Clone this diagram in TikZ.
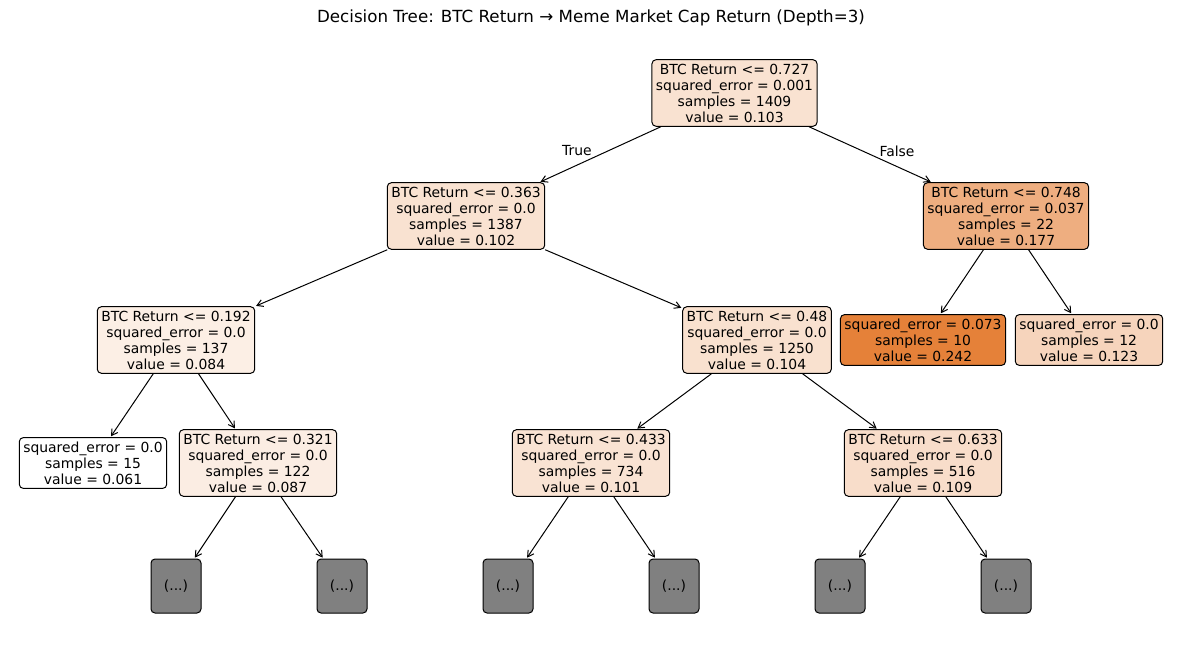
\documentclass[tikz,border=0pt]{standalone}
\usepackage{fontspec}
\setmainfont{DejaVu Sans}
\usepackage{xcolor}
\usetikzlibrary{arrows.meta, positioning}
\definecolor{splitorange}{RGB}{229,129,57}
\definecolor{cutgray}{RGB}{128,128,128}

\begin{document}
\begin{tikzpicture}[x=1pt, y=-1pt,
    every node/.style={font=\fontsize{13.9}{16}\selectfont},
    treebox/.style={draw, rectangle, rounded corners=4pt, line width=1pt, align=center, inner xsep=4pt, inner ysep=4pt},
    cutbox/.style={draw, rectangle, rounded corners=4pt, line width=1pt, fill=cutgray, minimum width=50pt, minimum height=54pt},
    branch/.style={-{Straight Barb[length=6pt, width=7pt]}, line width=1pt, shorten >=1pt}]
    \useasboundingbox (0,0) rectangle (1182,658);

    \node (title) at (591,18) {\fontsize{16.7}{20}\selectfont Decision Tree: BTC Return → Meme Market Cap Return (Depth=3)};

    % depth 0 and 1
    \node[treebox, fill=splitorange!23!white] (root) at (734.5,93) {BTC Return <= 0.727\\squared\_error = 0.001\\samples = 1409\\value = 0.103};
    \node[treebox, fill=splitorange!23!white] (n1) at (466,216) {BTC Return <= 0.363\\squared\_error = 0.0\\samples = 1387\\value = 0.102};
    \node[treebox, fill=splitorange!64!white] (n2) at (1006,216) {BTC Return <= 0.748\\squared\_error = 0.037\\samples = 22\\value = 0.177};

    % depth 2
    \node[treebox, fill=splitorange!13!white] (n3) at (176,340) {BTC Return <= 0.192\\squared\_error = 0.0\\samples = 137\\value = 0.084};
    \node[treebox, fill=splitorange!24!white] (n4) at (757,340) {BTC Return <= 0.48\\squared\_error = 0.0\\samples = 1250\\value = 0.104};
    \node[treebox, fill=splitorange] (n5) at (923,340) {squared\_error = 0.073\\samples = 10\\value = 0.242};
    \node[treebox, fill=splitorange!34!white] (n6) at (1089,340) {squared\_error = 0.0\\samples = 12\\value = 0.123};

    % depth 3
    \node[treebox, fill=white] (n7) at (93,463) {squared\_error = 0.0\\samples = 15\\value = 0.061};
    \node[treebox, fill=splitorange!14!white] (n8) at (258,463) {BTC Return <= 0.321\\squared\_error = 0.0\\samples = 122\\value = 0.087};
    \node[treebox, fill=splitorange!22!white] (n9) at (591,463) {BTC Return <= 0.433\\squared\_error = 0.0\\samples = 734\\value = 0.101};
    \node[treebox, fill=splitorange!27!white] (n10) at (923,463) {BTC Return <= 0.633\\squared\_error = 0.0\\samples = 516\\value = 0.109};

    % truncated subtrees
    \node[cutbox] (c1) at (176,586) {(...)};
    \node[cutbox] (c2) at (342,586) {(...)};
    \node[cutbox] (c3) at (508,586) {(...)};
    \node[cutbox] (c4) at (674,586) {(...)};
    \node[cutbox] (c5) at (840,586) {(...)};
    \node[cutbox] (c6) at (1006,586) {(...)};

    \draw[branch] (root) -- (n1);
    \draw[branch] (root) -- (n2);
    \draw[branch] (n1) -- (n3);
    \draw[branch] (n1) -- (n4);
    \draw[branch] (n2) -- (n5);
    \draw[branch] (n2) -- (n6);
    \draw[branch] (n3) -- (n7);
    \draw[branch] (n3) -- (n8);
    \draw[branch] (n4) -- (n9);
    \draw[branch] (n4) -- (n10);
    \draw[branch] (n8) -- (c1);
    \draw[branch] (n8) -- (c2);
    \draw[branch] (n9) -- (c3);
    \draw[branch] (n9) -- (c4);
    \draw[branch] (n10) -- (c5);
    \draw[branch] (n10) -- (c6);

    \node (truelbl) at (577,151) {True};
    \node (falselbl) at (897,151) {False};
\end{tikzpicture}
\end{document}
